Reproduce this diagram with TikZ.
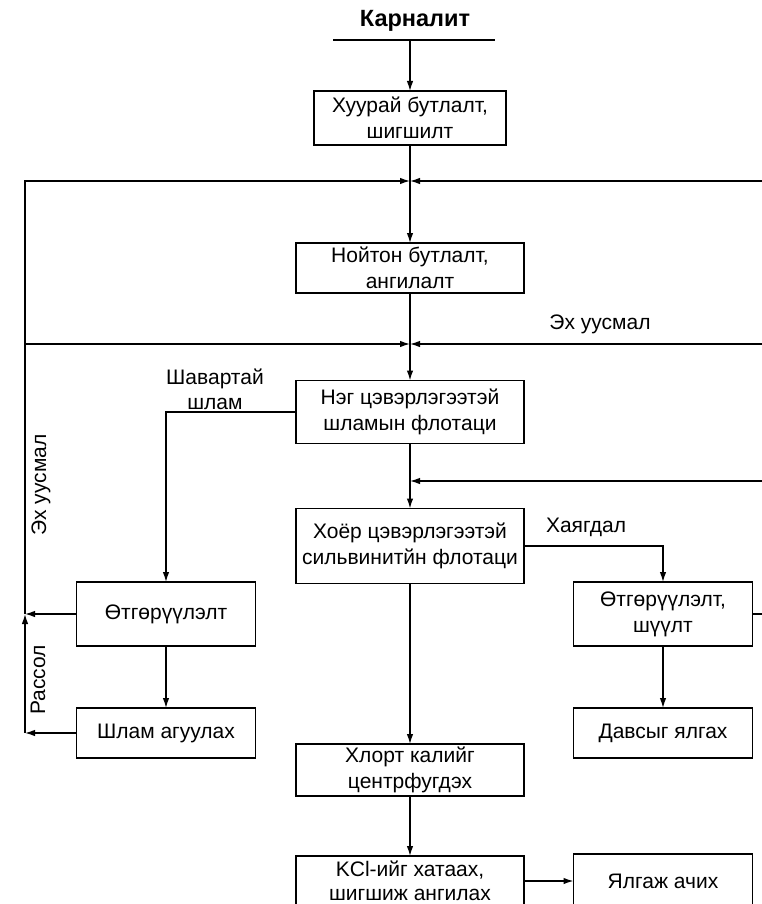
\documentclass[tikz,border=0pt]{standalone}
\usepackage{fontspec}
\setmainfont{Liberation Sans}
\usetikzlibrary{arrows.meta}
\usetikzlibrary{calc,positioning}

\begin{document}
\begin{tikzpicture}[x=1pt,y=-1pt]
    \tikzstyle{block} = [draw, line width=1.5pt, outer sep=0pt, align=center, inner sep=2pt, font=\fontsize{21}{26}\selectfont]
    \tikzstyle{flow text} = [align=center, inner sep=1pt, font=\fontsize{21}{25}\selectfont]
    \tikzstyle{line} = [draw, line width=1.3pt, -{Latex[length=10pt,width=6.5pt]}]
    \tikzstyle{plain line} = [draw, line width=1.3pt]

    \def\blockWidth{228pt}
    \def\sideWidth{179pt}

    \useasboundingbox (0,0) rectangle (762,904);

    % main column
    \node (title) [font=\bfseries\fontsize{23.5}{26}\selectfont] at (415,21) {Карналит};

    \node[block] (B1) [minimum width=192pt, minimum height=54pt] at (410,118) {Хуурай бутлалт,\\шигшилт};

    \node[block] (B2) [minimum width=\blockWidth, minimum height=50pt] at (410,268) {Нойтон бутлалт,\\ангилалт};

    \node[block] (B3) [minimum width=\blockWidth, minimum height=63pt] at (410,412) {Нэг цэвэрлэгээтэй\\шламын флотаци};

    \node[block] (B4) [minimum width=\blockWidth, minimum height=75pt] at (410,546) {Хоёр цэвэрлэгээтэй\\сильвинитйн флотаци};

    \node[block] (B9) [minimum width=\blockWidth, minimum height=52pt] at (410,770) {Хлорт калийг\\центрфугдэх};

    \node[block] (B10) [minimum width=\blockWidth, minimum height=50pt, font=\fontsize{21}{24}\selectfont] at (410,881) {KCl-ийг хатаах,\\шигшиж ангилах};

    % side columns
    \node[block] (B5) [minimum width=\sideWidth, minimum height=64pt] at (166,614) {Өтгөрүүлэлт};
    \node[block] (B7) [minimum width=\sideWidth, minimum height=50pt] at (166,733) {Шлам агуулах};

    \node[block] (B6) [minimum width=\sideWidth, minimum height=64pt] at (663,614) {Өтгөрүүлэлт,\\шүүлт};
    \node[block] (B8) [minimum width=\sideWidth, minimum height=50pt] at (663,733) {Давсыг ялгах};
    \node[block] (B11) [minimum width=\sideWidth, minimum height=54pt] at (663,881) {Ялгаж ачих};

    % junctions and free ends
    \node (ulL) [coordinate] at (333,40) {};
    \node (ulR) [coordinate] at (495,40) {};
    \node (ulM) [coordinate] at (410,40) {};
    \node (J1) [coordinate] at (410,181) {};
    \node (J2) [coordinate] at (410,344) {};
    \node (J3) [coordinate] at (410,481) {};
    \node (lt) [coordinate] at (25,181) {};
    \node (lm) [coordinate] at (25,344) {};
    \node (lk) [coordinate] at (25,614) {};
    \node (lb) [coordinate] at (25,733) {};
    \node (rt) [coordinate] at (762,181) {};
    \node (rm) [coordinate] at (762,344) {};
    \node (r3) [coordinate] at (762,481) {};
    \node (r6) [coordinate] at (762,614) {};

    % labels
    \node (ehTop) [flow text] at (600,324) {Эх уусмал};
    \node (shavar) [flow text] at (215,389) {Шавартай\\шлам};
    \node (khaya) [flow text] at (586,527) {Хаягдал};
    \node (ehLeft) [flow text, rotate=90] at (41,485) {Эх уусмал};
    \node (rassol) [flow text, rotate=90] at (38,680) {Рассол};

    \path [draw, line width=2.5pt] (ulL) -- (ulR);
    \path [line] (ulM) -- (B1.north);
    \path [plain line] (B1.south) -- (J1);
    \path [line] (J1) -- (B2.north);
    \path [line] (lk) -- (lt) -- (J1);
    \path [line] (rt) -- (J1);
    \path [plain line] (B2.south) -- (J2);
    \path [line] (J2) -- (B3.north);
    \path [line] (lm) -- (J2);
    \path [line] (rm) -- (J2);
    \path [line] (B3.south) -- (B4.north);
    \path [line] (r3) -- (J3);
    \path [line] (B3.west) -| (B5.north);
    \path [line] (B4.east) -| (B6.north);
    \path [line] (B4.south) -- (B9.north);
    \path [line] (B9.south) -- (B10.north);
    \path [line] (B10.east) -- (B11.west);
    \path [line] (B5.south) -- (B7.north);
    \path [line] (B6.south) -- (B8.north);
    \path [line] (B5.west) -- (lk);
    \path [line] (B7.west) -- (lb);
    \path [line] (lb) -- (lk);
    \path [plain line] (B6.east) -- (r6);
\end{tikzpicture}
\end{document}
